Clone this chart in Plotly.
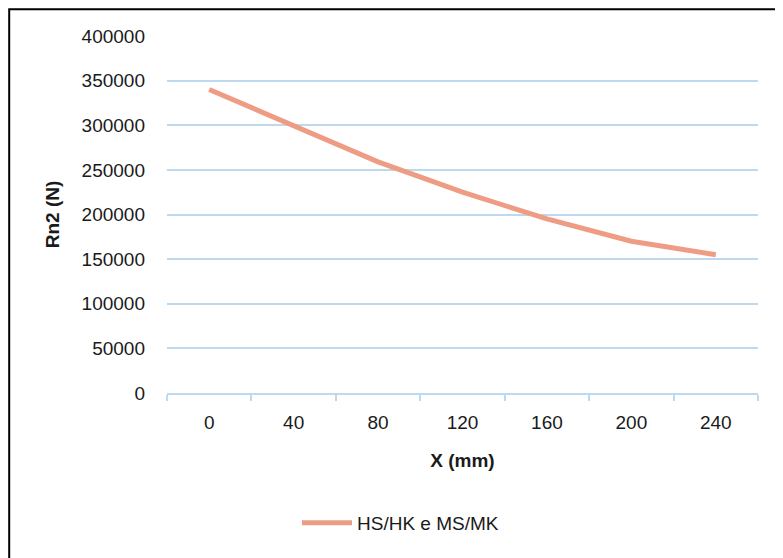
import plotly.graph_objects as go

categories = ["0", "40", "80", "120", "160", "200", "240"]
rn2_values = [340000, 299000, 259000, 225000, 195000, 170000, 155000]
series_name = "HS/HK e MS/MK"
y_tick_values = [0, 50000, 100000, 150000, 200000, 250000, 300000, 350000, 400000]

LINE_COLOR = "#EE9D84"
GRID_COLOR = "#BDD9F0"
FONT = "Liberation Sans, Arial, sans-serif"

fig = go.Figure()
fig.add_trace(go.Scatter(
    x=categories, y=rn2_values, mode="lines", name=series_name,
    line=dict(color=LINE_COLOR, width=5),
    showlegend=True,
))

W, H = 783, 558
OFF = 8  # page body margin
L, R, T, B = 167 - OFF, 25 + OFF, 36 - OFF, 165 + OFF
pw = W - L - R
ph = H - T - B

def px_x(p):
    return (p - OFF - L) / pw

def px_y(p):
    return (H - B - (p - OFF)) / ph

fig.update_layout(
    width=W, height=H,
    margin=dict(l=L, r=R, t=T, b=B, pad=0),
    paper_bgcolor="white", plot_bgcolor="white",
    font=dict(family=FONT, size=19, color="#1a1a1a"),
    showlegend=True,
    legend=dict(
        orientation="h", x=px_x(297), xanchor="left",
        y=px_y(523), yanchor="middle",
        font=dict(family=FONT, size=19, color="#1a1a1a"),
        bgcolor="rgba(0,0,0,0)", itemwidth=50,
    ),
    xaxis=dict(
        type="category", tickson="boundaries",
        showgrid=False, zeroline=False,
        showline=True, linecolor=GRID_COLOR, linewidth=1.5,
        ticks="outside", ticklen=6, tickcolor=GRID_COLOR, tickwidth=1.5,
        ticklabelstandoff=11,
        tickfont=dict(family=FONT, size=19, color="#1a1a1a"),
        title=dict(text="<b>X (mm)</b>", standoff=22,
                   font=dict(family=FONT, size=19, color="#1a1a1a")),
        range=[-0.5, 6.5],
    ),
    yaxis=dict(
        range=[0, 400000], tickvals=y_tick_values,
        ticktext=[str(v) for v in y_tick_values],
        showgrid=True, gridcolor=GRID_COLOR, gridwidth=1.5,
        zeroline=False, showline=False, ticks="",
        ticklabelstandoff=21,
        tickfont=dict(family=FONT, size=19, color="#1a1a1a"),
        title=dict(text="<b>Rn2 (N)</b>", standoff=16,
                   font=dict(family=FONT, size=19, color="#1a1a1a")),
    ),
    shapes=[dict(
        type="rect", xref="paper", yref="paper",
        x0=px_x(9.2), x1=px_x(800), y0=px_y(580), y1=px_y(9.2),
        line=dict(color="black", width=2), fillcolor="rgba(0,0,0,0)",
        layer="below",
    )],
)

fig.write_html("out.html")
